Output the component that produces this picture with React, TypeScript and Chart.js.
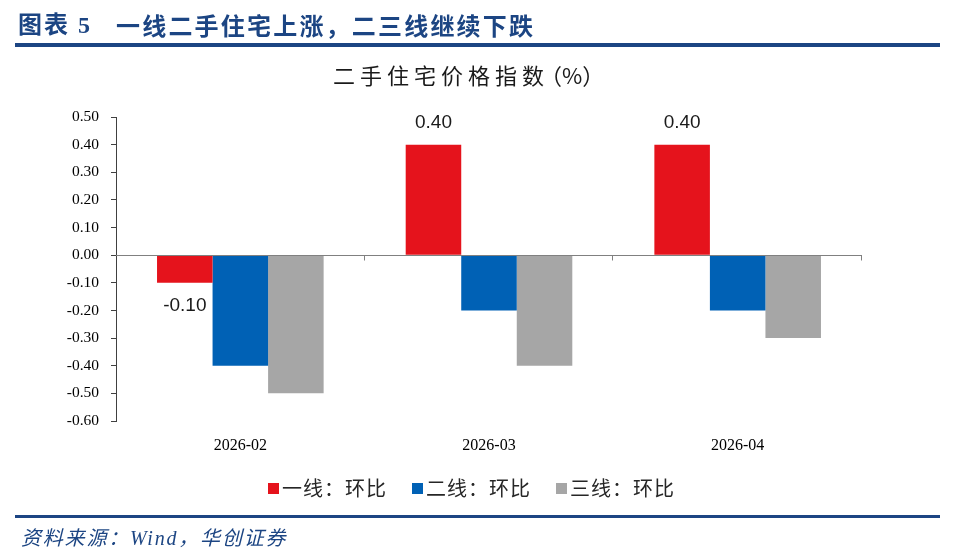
import React, { useEffect, useRef } from "react";
import { Chart, registerables } from "chart.js";

Chart.register(...registerables);

// 二手住宅价格指数 环比（%）
const categories = ["2026-02", "2026-03", "2026-04"];
const tier1 = [-0.1, 0.4, 0.4];
const tier2 = [-0.4, -0.2, -0.2];
const tier3 = [-0.5, -0.4, -0.3];
const seriesNames = ["一线：环比", "二线：环比", "三线：环比"];
const seriesColors = ["#E5131C", "#0061B5", "#A6A6A6"];
const yMin = -0.6;
const yMax = 0.5;
const yStep = 0.1;

const NAVY = "#1C4583";

// zero baseline with category separator ticks, drawn across the plot
const zeroAxisPlugin = {
  id: "zeroAxis",
  afterDatasetsDraw(chart: any) {
    const { ctx, chartArea, scales } = chart;
    const y0 = Math.round(scales.y.getPixelForValue(0)) + 0.5;
    const n = categories.length;
    const step = (chartArea.right - chartArea.left) / n;
    ctx.save();
    ctx.strokeStyle = "#808080";
    ctx.lineWidth = 1;
    ctx.beginPath();
    ctx.moveTo(chartArea.left, y0);
    ctx.lineTo(chartArea.right, y0);
    for (let i = 1; i <= n; i++) {
      const x = Math.round(scales.x.getPixelForValue(i - 1) + step / 2) - 0.5;
      ctx.moveTo(x, y0);
      ctx.lineTo(x, y0 + 5);
    }
    ctx.stroke();
    ctx.restore();
  },
};

// value labels on the first-tier series
const valueLabelPlugin = {
  id: "valueLabels",
  afterDatasetsDraw(chart: any) {
    const { ctx } = chart;
    const meta = chart.getDatasetMeta(0);
    const data = chart.data.datasets[0].data as number[];
    ctx.save();
    ctx.font = '19px "Liberation Sans", Arial, sans-serif';
    ctx.fillStyle = "#1a1a1a";
    ctx.textAlign = "center";
    ctx.textBaseline = "middle";
    meta.data.forEach((el: any, i: number) => {
      const v = data[i];
      const y = v >= 0 ? el.y - 22 : el.y + 23;
      ctx.fillText(v.toFixed(2), el.x, y);
    });
    ctx.restore();
  },
};

function BarChart() {
  const ref = useRef<HTMLCanvasElement>(null);
  useEffect(() => {
    if (!ref.current) return;
    const chart = new Chart(ref.current, {
      type: "bar",
      data: {
        labels: categories,
        datasets: [tier1, tier2, tier3].map((d, i) => ({
          label: seriesNames[i],
          data: d,
          backgroundColor: seriesColors[i],
          borderWidth: 0,
          categoryPercentage: 0.67,
          barPercentage: 1,
        })),
      },
      options: {
        animation: false,
        responsive: false,
        devicePixelRatio: 1,
        layout: { padding: { left: 0, top: 117, right: 98, bottom: 98 } },
        plugins: {
          legend: { display: false },
          title: { display: false },
          tooltip: { enabled: false },
        },
        scales: {
          x: {
            grid: { display: false },
            border: { display: false },
            ticks: {
              padding: 7,
              color: "#000",
              font: { family: '"Liberation Serif", "Times New Roman", serif', size: 16 },
            },
            afterFit(scale: any) {
              scale.height = 40;
            },
          },
          y: {
            min: yMin,
            max: yMax,
            grid: {
              drawOnChartArea: false,
              drawTicks: true,
              tickLength: 5,
              color: "#404040",
            },
            border: { display: true, color: "#404040", width: 1 },
            ticks: {
              stepSize: yStep,
              padding: 12,
              color: "#000",
              font: { family: '"Liberation Serif", "Times New Roman", serif', size: 15.5 },
              callback: (v: any) => {
                const n = Number(v);
                return Math.abs(n) < 1e-9 ? "0.00" : n.toFixed(2);
              },
            },
            afterFit(scale: any) {
              scale.width = 116;
            },
          },
        },
      },
      plugins: [zeroAxisPlugin, valueLabelPlugin],
    });
    return () => chart.destroy();
  }, []);
  return (
    <canvas
      ref={ref}
      width={960}
      height={559}
      style={{ position: "absolute", left: 0, top: 0, width: 960, height: 559 }}
    />
  );
}

export default function App() {
  const cjk = '"Noto Sans CJK SC", "Noto Sans", sans-serif';
  const legendLeft = [268, 412, 556];
  return (
    <div
      style={{
        position: "absolute",
        left: 0,
        top: 0,
        width: 960,
        height: 559,
        background: "#fff",
        overflow: "hidden",
      }}
    >
      <BarChart />
      <div
        style={{
          position: "absolute",
          left: 18,
          top: 9,
          fontFamily: '"Liberation Serif", ' + cjk,
          fontWeight: 700,
          fontSize: 24,
          letterSpacing: 2,
          color: NAVY,
          whiteSpace: "nowrap",
          lineHeight: "32px",
        }}
      >
        图表 5
      </div>
      <div
        style={{
          position: "absolute",
          left: 116,
          top: 9,
          fontFamily: cjk,
          fontWeight: 700,
          fontSize: 24,
          letterSpacing: 2.2,
          color: NAVY,
          whiteSpace: "nowrap",
          lineHeight: "32px",
        }}
      >
        一线二手住宅上涨，二三线继续下跌
      </div>
      <div style={{ position: "absolute", left: 15, top: 43, width: 925, height: 4, background: NAVY }} />
      <div
        style={{
          position: "absolute",
          left: 333,
          top: 59,
          fontFamily: cjk,
          fontSize: 22,
          letterSpacing: 5,
          color: "#1a1a1a",
          whiteSpace: "nowrap",
          lineHeight: "30px",
        }}
      >
        二手住宅价格指数
        <span style={{ letterSpacing: 0, marginLeft: -9 }}>（%）</span>
      </div>
      {seriesNames.map((name, i) => (
        <div
          key={name}
          style={{
            position: "absolute",
            left: legendLeft[i],
            top: 474,
            height: 28,
            display: "flex",
            alignItems: "center",
            whiteSpace: "nowrap",
          }}
        >
          <span style={{ display: "inline-block", width: 11, height: 11, background: seriesColors[i] }} />
          <span
            style={{
              marginLeft: 3,
              fontFamily: cjk,
              fontSize: 20,
              letterSpacing: 1,
              color: "#262626",
              lineHeight: "28px",
            }}
          >
            {name}
          </span>
        </div>
      ))}
      <div style={{ position: "absolute", left: 15, top: 515, width: 925, height: 3, background: NAVY }} />
      <div
        style={{
          position: "absolute",
          left: 21,
          top: 524,
          fontFamily: '"Liberation Serif", ' + cjk,
          fontStyle: "italic",
          fontSize: 20,
          letterSpacing: 1.8,
          color: NAVY,
          whiteSpace: "nowrap",
          lineHeight: "28px",
        }}
      >
        资料来源：Wind，华创证券
      </div>
    </div>
  );
}
